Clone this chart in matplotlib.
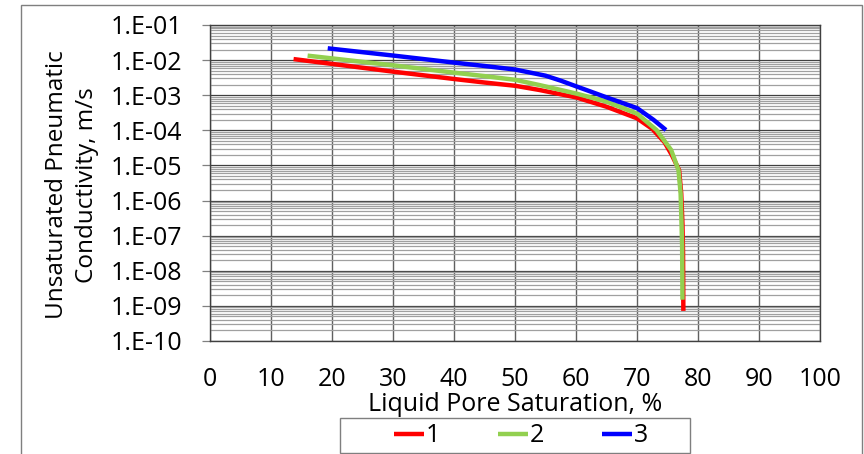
import numpy as np
import matplotlib
matplotlib.use('Agg')
import matplotlib.pyplot as plt
from matplotlib.patches import Rectangle
from matplotlib.ticker import FixedLocator, FuncFormatter, LogLocator

# Curves: liquid pore saturation (%) vs conductivity (m/s)
sat_1 = [13.7, 20, 30, 40, 45, 50, 54, 60, 65, 70, 72.5, 74.5, 75.7, 76.9, 77.25, 77.45, 77.55, 77.6]
k_1 = [1.07e-2, 7.8e-3, 4.7e-3, 2.9e-3, 2.3e-3, 1.86e-3, 1.41e-3, 8.7e-4, 4.7e-4,
       2.2e-4, 1.1e-4, 4.6e-5, 2.0e-5, 7.4e-6, 1.6e-6, 2.2e-7, 3.2e-8, 7.2e-10]

sat_2 = [16.0, 20, 30, 40, 45, 50, 54, 60, 65, 70, 73.2, 75.6, 76.8, 77.15, 77.3, 77.4, 77.45]
k_2 = [1.34e-2, 1.12e-2, 7.1e-3, 4.4e-3, 3.5e-3, 2.75e-3, 1.95e-3, 1.12e-3, 6.6e-4,
       3.0e-4, 1.02e-4, 2.75e-5, 7.4e-6, 1.6e-6, 2.2e-7, 5.0e-8, 1.5e-9]

sat_3 = [19.3, 20, 30, 40, 45, 50, 55, 57.5, 60, 65, 70, 72.7, 74.75]
k_3 = [2.17e-2, 2.1e-2, 1.35e-2, 8.5e-3, 6.8e-3, 5.4e-3, 3.6e-3, 2.6e-3, 1.8e-3,
       8.7e-4, 4.3e-4, 2.0e-4, 1.02e-4]

labels = ['1', '2', '3']
colors = ['#FF0000', '#92D050', '#0000FF']
x_ticks = list(range(0, 101, 10))
y_exps = list(range(-10, 0))

plt.rcParams['font.family'] = ['Open Sans', 'DejaVu Sans']

W, H = 864, 454
fig = plt.figure(figsize=(W / 100, H / 100), dpi=100)

# outer chart frame
fig.patches.append(Rectangle((21 / W, -0.05), (862 - 21) / W, 1 - 5 / H + 0.05,
                             transform=fig.transFigure, fill=False,
                             edgecolor='#7f7f7f', lw=1.0))

ax = fig.add_axes([210 / W, 1 - 341 / H, 610 / W, 316 / H])

series = [(sat_1, k_1), (sat_2, k_2), (sat_3, k_3)]
handles = []
for (xs, ys), lab, col in zip(series, labels, colors):
    h, = ax.plot(xs, ys, color=col, lw=3.2, label=lab, solid_capstyle='butt',
                 solid_joinstyle='round', zorder=3)
    handles.append(h)

ax.set_yscale('log')
ax.set_ylim(1e-10, 1e-1)
ax.set_xlim(0, 100)

ax.yaxis.set_major_locator(FixedLocator([10.0 ** e for e in y_exps]))
ax.yaxis.set_major_formatter(FuncFormatter(lambda v, p: '1.E-%02d' % round(-np.log10(v))))
ax.yaxis.set_minor_locator(LogLocator(base=10, subs=np.arange(2, 10), numticks=100))
ax.yaxis.set_minor_formatter(FuncFormatter(lambda v, p: ''))
ax.set_xticks(x_ticks)

ax.grid(True, which='major', axis='y', color='#404040', lw=0.9)
ax.grid(True, which='minor', axis='y', color='#a0a0a0', lw=0.9)
ax.grid(True, which='major', axis='x', color='#606060', lw=1.0)

ax.tick_params(axis='y', which='major', direction='out', length=6, width=0.9,
               color='#808080', pad=14, labelsize=18)
ax.tick_params(axis='y', which='minor', length=0)
ax.tick_params(axis='x', length=0, pad=19, labelsize=18)
for s in ax.spines.values():
    s.set_color('#404040')
    s.set_linewidth(1.0)

ax.set_xlabel('Liquid Pore Saturation, %', fontsize=18, labelpad=0)
fig.text(72 / W, 1 - 185 / H, 'Unsaturated Pneumatic\nConductivity, m/s',
         rotation=90, ha='center', va='center', fontsize=17.5, linespacing=1.3)

# legend box under the axis title
fig.patches.append(Rectangle((340 / W, 1 - 453 / H), 350 / W, 35 / H,
                             transform=fig.transFigure, fill=False,
                             edgecolor='#7f7f7f', lw=1.0))
fig.legend(handles=handles, loc='center', bbox_to_anchor=(521 / W, 1 - 436 / H),
           ncol=3, frameon=False, fontsize=18, handlelength=1.2,
           handletextpad=0.08, columnspacing=2.3)

fig.savefig('out.png', dpi=100)
